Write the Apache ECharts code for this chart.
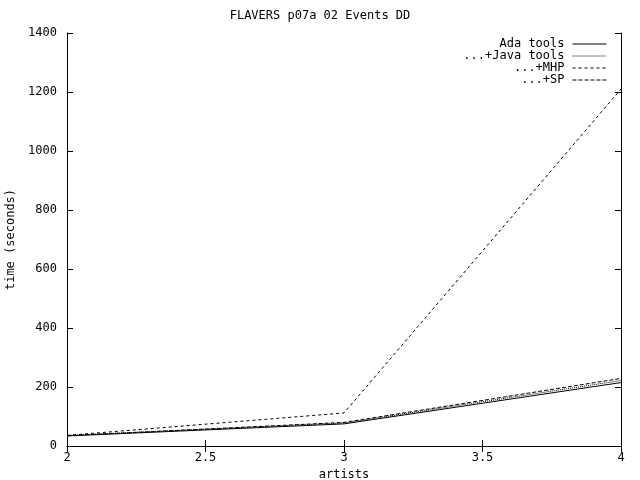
<!DOCTYPE html>
<html><head><meta charset="utf-8">
<script src="https://cdn.jsdelivr.net/npm/echarts@6/dist/echarts.min.js"></script>
<style>html,body{margin:0;padding:0;background:#fff}#c{width:640px;height:480px}</style>
</head><body><div id="c"></div>
<script>
const artists = [2, 3, 4];
const adaTools = [34, 75, 215];
const javaTools = [36, 78, 222];
const mhp = [36, 112, 1210];
const sp = [35, 80, 229];
const seriesNames = ['Ada tools', '...+Java tools', '...+MHP', '...+SP'];
const xTicks = [2, 2.5, 3, 3.5, 4];
const yTicks = [0, 200, 400, 600, 800, 1000, 1200, 1400];

const font = 'DejaVu Sans Mono';
const pair = arr => artists.map((x, i) => [x, arr[i]]);
const styles = [
  {type: 'solid'},
  {type: [1, 1]},
  {type: [3, 3]},
  {type: [4, 2]}
];
const datas = [adaTools, javaTools, mhp, sp];

const chart = echarts.init(document.getElementById('c'), null, {renderer: 'canvas'});
const axisLine = {show: true, lineStyle: {color: '#000', width: 1}};
chart.setOption({
  animation: false,
  backgroundColor: '#fff',
  title: {text: 'FLAVERS p07a 02 Events DD', left: 'center', top: 5,
    textStyle: {fontFamily: font, fontSize: 12, fontWeight: 'normal', color: '#000'}},
  legend: {
    right: 28, top: 33, orient: 'vertical', align: 'right', itemGap: 0,
    itemWidth: 34, itemHeight: 12,
    itemStyle: {opacity: 0},
    lineStyle: {width: 1},
    textStyle: {fontFamily: font, fontSize: 12, color: '#000', padding: [0, 3, 0, 0]},
    data: seriesNames
  },
  grid: {left: 67, right: 19, top: 33, bottom: 34, containLabel: false, outerBoundsMode: 'none'},
  xAxis: [{
    type: 'value', min: 2, max: 4, interval: 0.5,
    name: 'artists', nameLocation: 'middle', nameGap: 22,
    nameTextStyle: {fontFamily: font, fontSize: 12, color: '#000'},
    axisLine, axisTick: {inside: true, length: 6, lineStyle: {color: '#000'}},
    axisLabel: {fontFamily: font, fontSize: 12, color: '#000', margin: 6,
      formatter: v => xTicks.includes(v) ? String(v) : ''},
    splitLine: {show: false}
  }, {
    type: 'value', min: 2, max: 4, interval: 0.5, position: 'top',
    axisLine, axisTick: {inside: true, length: 6, lineStyle: {color: '#000'}},
    axisLabel: {show: false}, splitLine: {show: false}
  }],
  yAxis: [{
    type: 'value', min: 0, max: 1400, interval: 200,
    name: 'time (seconds)', nameLocation: 'middle', nameGap: 47, nameRotate: 90,
    nameTextStyle: {fontFamily: font, fontSize: 12, color: '#000'},
    axisLine, axisTick: {inside: true, length: 6, lineStyle: {color: '#000'}},
    axisLabel: {fontFamily: font, fontSize: 12, color: '#000', margin: 10,
      formatter: v => yTicks.includes(v) ? String(v) : ''},
    splitLine: {show: false}
  }, {
    type: 'value', min: 0, max: 1400, interval: 200, position: 'right',
    axisLine, axisTick: {inside: true, length: 6, lineStyle: {color: '#000'}},
    axisLabel: {show: false}, splitLine: {show: false}
  }],
  series: seriesNames.map((n, i) => ({
    name: n, type: 'line', data: pair(datas[i]), showSymbol: false, symbol: 'none',
    itemStyle: {color: '#000'},
    lineStyle: Object.assign({color: '#000', width: 1}, styles[i])
  }))
});
</script></body></html>
